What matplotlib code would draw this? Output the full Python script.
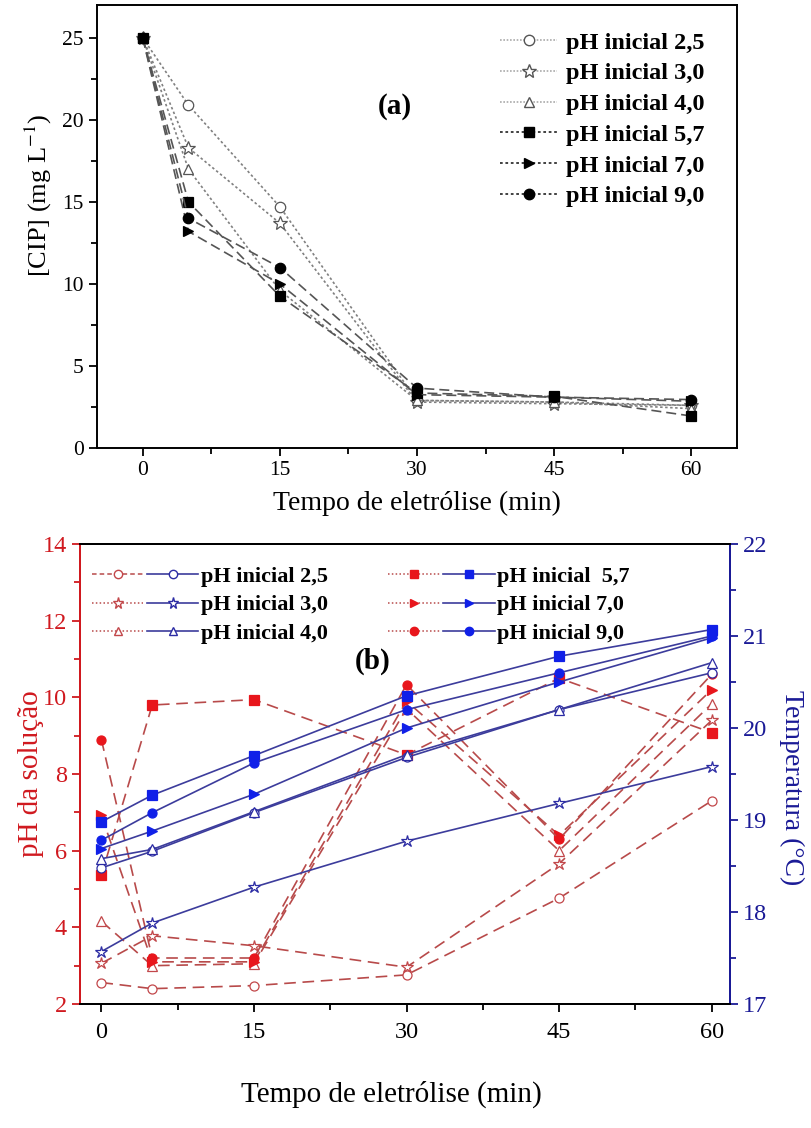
import matplotlib
matplotlib.use("Agg")
import matplotlib.pyplot as plt
from matplotlib.lines import Line2D
from matplotlib.legend_handler import HandlerTuple
from matplotlib.ticker import MultipleLocator

plt.rcParams["font.family"] = ["Liberation Serif", "DejaVu Serif"]
plt.rcParams["mathtext.fontset"] = "stix"

# ---- data ----
time = [0, 5, 15, 30, 45, 60]
labels = ["pH inicial 2,5", "pH inicial 3,0", "pH inicial 4,0",
          "pH inicial 5,7", "pH inicial 7,0", "pH inicial 9,0"]
labels_b = ["pH inicial 2,5", "pH inicial 3,0", "pH inicial 4,0",
            "pH inicial  5,7", "pH inicial 7,0", "pH inicial 9,0"]
markers = ["o", "*", "^", "s", ">", "o"]
filled = [False, False, False, True, True, True]

# (a) CIP concentration, mg/L
cip_25 = [25.0, 20.9, 14.7, 2.9, 2.8, 2.6]
cip_30 = [25.0, 18.3, 13.7, 2.8, 2.7, 2.6]
cip_40 = [25.0, 17.0, 9.6, 2.9, 2.8, 2.4]
cip_57 = [25.0, 15.0, 9.25, 3.35, 3.15, 1.95]
cip_70 = [25.0, 13.2, 10.0, 3.25, 3.1, 2.85]
cip_90 = [25.0, 14.0, 11.0, 3.65, 3.1, 2.95]

# (b) solution pH
ph_25 = [2.56, 2.4, 2.48, 2.76, 4.76, 7.3]
ph_30 = [3.06, 3.78, 3.52, 2.96, 5.66, 9.4]
ph_40 = [4.16, 3.0, 3.05, 9.7, 6.0, 9.83]
ph_57 = [5.36, 9.8, 9.94, 8.5, 10.5, 9.08]
ph_70 = [6.92, 3.1, 3.1, 9.9, 6.4, 10.2]
ph_90 = [8.9, 3.2, 3.2, 10.33, 6.3, 10.6]

# (b) temperature, degC
temp_25 = [18.48, 18.66, 19.08, 19.68, 20.2, 20.6]
temp_30 = [17.57, 17.88, 18.27, 18.77, 19.18, 19.58]
temp_40 = [18.58, 18.68, 19.09, 19.71, 20.2, 20.71]
temp_57 = [18.98, 19.27, 19.7, 20.35, 20.78, 21.07]
temp_70 = [18.69, 18.88, 19.28, 20.0, 20.5, 20.98]
temp_90 = [18.78, 19.08, 19.62, 20.2, 20.6, 21.0]

cip = [cip_25, cip_30, cip_40, cip_57, cip_70, cip_90]
ph = [ph_25, ph_30, ph_40, ph_57, ph_70, ph_90]
temp = [temp_25, temp_30, temp_40, temp_57, temp_70, temp_90]

RED_LINE = "#b84a4a"
RED_MK = "#e8161c"
RED_OPEN = "#c2474a"
BLUE_LINE = "#3c3c9c"
BLUE_MK = "#1020e8"
BLUE_OPEN = "#2c2ca4"
RED_AX = "#d0191f"
BLUE_AX = "#1a1a96"


def msize(m, base):
    return base * 1.35 if m == "*" else base


fig = plt.figure(figsize=(8.11, 11.28), dpi=100)

# ================= panel (a) =================
axa = fig.add_axes([97 / 811, 1 - 448 / 1128, 640 / 811, 443 / 1128])
for i in range(6):
    if filled[i]:
        ls, col, fc = (0, (6, 3)), "#555555", "black"
    else:
        ls, col, fc = (0, (1.5, 1.5)), "#808080", "white"
    axa.plot(time, cip[i], linestyle=ls, color=col, lw=1.2,
             marker=markers[i], ms=msize(markers[i], 7.5), mfc=fc,
             mec="black" if filled[i] else "#555555", mew=0.9)

handles_a = []
for i in range(6):
    if filled[i]:
        h = Line2D([], [], linestyle=(0, (1.5, 1.5)), color="#333333", lw=1.3,
                   marker=markers[i], ms=msize(markers[i], 7.5), mfc="black", mec="black")
    else:
        h = Line2D([], [], linestyle=(0, (1, 1)), color="#aaaaaa", lw=1.2,
                   marker=markers[i], ms=msize(markers[i], 7.5), mfc="white", mec="#555555")
    handles_a.append(h)
axa.legend(handles_a, labels, loc="upper left", bbox_to_anchor=(0.63, 0.94),
           frameon=False, borderaxespad=0, borderpad=0, handlelength=2.35,
           handletextpad=0.35, labelspacing=0.36,
           prop={"family": "Liberation Serif", "weight": "bold", "size": 17.5})

axa.set_xlim(-5, 65)
axa.set_ylim(0, 27)
axa.xaxis.set_major_locator(MultipleLocator(15))
axa.xaxis.set_minor_locator(MultipleLocator(7.5))
axa.yaxis.set_major_locator(MultipleLocator(5))
axa.yaxis.set_minor_locator(MultipleLocator(2.5))
axa.tick_params(which="both", direction="out", labelsize=15.5, width=1.3)
axa.tick_params(which="major", length=6)
axa.tick_params(which="minor", length=4)
for s in axa.spines.values():
    s.set_linewidth(1.4)
axa.set_xlabel("Tempo de eletrólise (min)", fontsize=20, va="center")
axa.xaxis.set_label_coords(0.5, (448 - 503) / 443)
axa.set_ylabel("[CIP] (mg L$^{-1}$)", fontsize=19, va="center")
axa.yaxis.set_label_coords((38 - 97) / 640, (448 - 195) / 443)
axa.text(0.465, 0.77, "(a)", transform=axa.transAxes, ha="center", va="center",
         fontsize=21, fontweight="bold")

# ================= panel (b) =================
axb = fig.add_axes([80 / 811, 1 - 1004 / 1128, 650 / 811, 460 / 1128])
axt = axb.twinx()
for i in range(6):
    m = markers[i]
    axb.plot(time, ph[i], linestyle=(0, (7, 4)), color=RED_LINE, lw=1.2,
             marker=m, ms=msize(m, 6.5), mfc=RED_MK if filled[i] else "white",
             mec=RED_MK if filled[i] else RED_OPEN, mew=0.9)
    axt.plot(time, temp[i], linestyle="-", color=BLUE_LINE, lw=1.2,
             marker=m, ms=msize(m, 6.5), mfc=BLUE_MK if filled[i] else "white",
             mec=BLUE_MK if filled[i] else BLUE_OPEN, mew=0.9)

handles_b = []
for i in range(6):
    m = markers[i]
    red = Line2D([], [], linestyle=(0, (3, 2)) if i == 0 else (0, (1, 1.5)),
                 color=RED_LINE, lw=1.1, marker=m, ms=msize(m, 6),
                 mfc=RED_MK if filled[i] else "white",
                 mec=RED_MK if filled[i] else RED_OPEN)
    blue = Line2D([], [], linestyle="-", color=BLUE_LINE, lw=1.2, marker=m,
                  ms=msize(m, 6), mfc=BLUE_MK if filled[i] else "white",
                  mec=BLUE_MK if filled[i] else BLUE_OPEN)
    handles_b.append((red, blue))
axb.legend(handles_b, labels_b, loc="upper left", bbox_to_anchor=(0.018, 0.952),
           ncol=2, frameon=False, borderaxespad=0, borderpad=0,
           handler_map={tuple: HandlerTuple(ndivide=None, pad=0.15)},
           handlelength=4.8, handletextpad=0.12, labelspacing=0.37,
           columnspacing=2.7,
           prop={"family": "Liberation Serif", "weight": "bold", "size": 16})
axb.text(0.45, 0.745, "(b)", transform=axb.transAxes, ha="center", va="center",
         fontsize=21, fontweight="bold")

axb.set_xlim(-2.1, 61.8)
axb.set_ylim(2, 14)
axt.set_ylim(17, 22)
axb.xaxis.set_major_locator(MultipleLocator(15))
axb.xaxis.set_minor_locator(MultipleLocator(7.5))
axb.yaxis.set_major_locator(MultipleLocator(2))
axb.yaxis.set_minor_locator(MultipleLocator(1))
axt.yaxis.set_major_locator(MultipleLocator(1))
axt.yaxis.set_minor_locator(MultipleLocator(0.5))
for a in (axb, axt):
    a.tick_params(which="both", direction="out", labelsize=17.5, width=1.3)
    a.tick_params(which="major", length=6)
    a.tick_params(which="minor", length=4)
    for s in a.spines.values():
        s.set_linewidth(1.4)
axb.tick_params(axis="x", which="major", pad=7)
axb.spines["left"].set_color(RED_AX)
axt.spines["left"].set_color(RED_AX)
axt.spines["right"].set_color(BLUE_AX)
axb.spines["right"].set_color(BLUE_AX)
axb.tick_params(axis="y", which="both", colors=RED_AX)
axt.tick_params(axis="y", which="both", colors=BLUE_AX)
axb.set_xlabel("Tempo de eletrólise (min)", fontsize=21, va="center")
axb.xaxis.set_label_coords((391 - 80) / 650, (1004 - 1094) / 460)
axb.set_ylabel("pH da solução", fontsize=21, color=RED_AX, va="center")
axb.yaxis.set_label_coords((31 - 80) / 650, 0.5)
axt.set_ylabel("Temperatura (°C)", fontsize=20, color=BLUE_AX, rotation=270,
               va="center")
axt.yaxis.set_label_coords((792 - 80) / 650, 0.47)

fig.savefig("out.png", dpi=100)
